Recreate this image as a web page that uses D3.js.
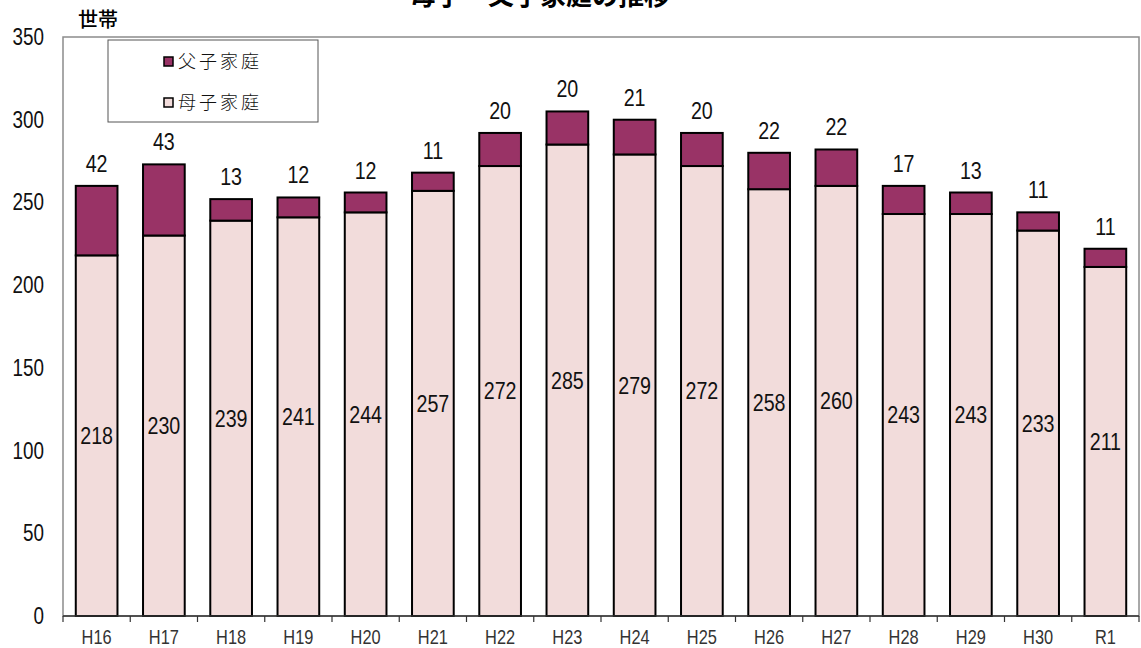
<!DOCTYPE html>
<html>
<head>
<meta charset="utf-8">
<script src="https://cdn.jsdelivr.net/npm/d3@7"></script>
<style>
  html, body { margin: 0; padding: 0; background: #fff; }
  svg { display: block; }
  .num { font-family: "Liberation Sans", Arial, sans-serif; }
  .jp { font-family: "Noto Sans CJK JP", "Noto Sans", sans-serif; }
</style>
</head>
<body>
<svg id="chart" width="1141" height="648"></svg>
<script>
// Fiscal years
const years = ["H16","H17","H18","H19","H20","H21","H22","H23","H24","H25","H26","H27","H28","H29","H30","R1"];
// Single-mother households
const motherChild = [218,230,239,241,244,257,272,285,279,272,258,260,243,243,233,211];
// Single-father households
const fatherChild = [42,43,13,12,12,11,20,20,21,20,22,22,17,13,11,11];
// Y-axis ticks
const yTicks = [0,50,100,150,200,250,300,350];
const seriesNames = ["母子家庭","父子家庭"];

const colors = { mother: "#F2DCDB", father: "#993366" };

const svg = d3.select("#chart");
const W = 1141, H = 648;
const m = { left: 63, right: 2, top: 37, bottom: 32 };
const plotW = W - m.left - m.right;
const plotH = H - m.top - m.bottom;

const x = d3.scaleBand().domain(years).range([m.left, m.left + plotW]).paddingInner(0.38).paddingOuter(0.19);
const y = d3.scaleLinear().domain([0, 350]).range([m.top + plotH, m.top]);

// Narrow numerals: horizontally condensed sans text
const NARROW = 0.82;
function narrowText(sel, fx, fy) {
  return sel.attr("class", "num")
    .attr("x", 0).attr("y", 0)
    .attr("transform", (d, i) => `translate(${fx(d, i)},${fy(d, i)}) scale(${NARROW},1)`);
}

// Title (partly above the page edge)
svg.append("text").attr("class", "jp")
  .attr("x", 540).attr("y", 5)
  .attr("text-anchor", "middle")
  .attr("font-size", 26).attr("font-weight", "bold")
  .text("母子・父子家庭の推移");

// Plot area frame
svg.append("rect")
  .attr("x", m.left).attr("y", m.top)
  .attr("width", plotW).attr("height", plotH)
  .attr("fill", "none").attr("stroke", "#8c8c8c").attr("stroke-width", 1.5);

// Unit label
svg.append("text").attr("class", "jp")
  .attr("x", 78).attr("y", 27)
  .attr("font-size", 20).attr("font-weight", 500)
  .text("世帯");

// Y axis labels
narrowText(svg.append("g").selectAll("text").data(yTicks).join("text"),
    () => 44, d => y(d))
  .attr("dy", "0.35em")
  .attr("text-anchor", "end")
  .attr("font-size", 23).attr("fill", "#111")
  .text(d => d);

// Stacked bars
const rows = years.map((yr, i) => ({ yr, mother: motherChild[i], father: fatherChild[i] }));
const stack = d3.stack().keys(["mother", "father"])(rows);

svg.append("g").selectAll("g").data(stack).join("g")
  .attr("fill", d => colors[d.key])
  .selectAll("rect").data(d => d).join("rect")
  .attr("x", d => x(d.data.yr))
  .attr("width", x.bandwidth())
  .attr("y", d => y(d[1]))
  .attr("height", d => y(d[0]) - y(d[1]))
  .attr("stroke", "#000").attr("stroke-width", 2);

// X axis
const xAxisY = y(0);
svg.append("line")
  .attr("x1", m.left).attr("x2", m.left + plotW)
  .attr("y1", xAxisY).attr("y2", xAxisY)
  .attr("stroke", "#333").attr("stroke-width", 1.5);
const boundaries = d3.range(years.length + 1).map(i => m.left + i * plotW / years.length);
svg.append("g").selectAll("line").data(boundaries).join("line")
  .attr("x1", d => d).attr("x2", d => d)
  .attr("y1", xAxisY).attr("y2", xAxisY + 6)
  .attr("stroke", "#333").attr("stroke-width", 1.2);

narrowText(svg.append("g").selectAll("text").data(years).join("text"),
    d => x(d) + x.bandwidth() / 2, () => 644)
  .attr("text-anchor", "middle")
  .attr("font-size", 20).attr("fill", "#333")
  .text(d => d);

// Value labels: mother inside the segment, father above the bar
narrowText(svg.append("g").selectAll("text").data(rows).join("text"),
    d => x(d.yr) + x.bandwidth() / 2, d => y(d.mother / 2))
  .attr("dy", "0.35em")
  .attr("text-anchor", "middle")
  .attr("font-size", 24).attr("fill", "#111")
  .text(d => d.mother);

narrowText(svg.append("g").selectAll("text").data(rows).join("text"),
    d => x(d.yr) + x.bandwidth() / 2, d => y(d.mother + d.father) - 14)
  .attr("text-anchor", "middle")
  .attr("font-size", 24).attr("fill", "#111")
  .text(d => d.father);

// Legend
const lg = svg.append("g");
lg.append("rect")
  .attr("x", 108).attr("y", 40).attr("width", 210).attr("height", 82)
  .attr("fill", "#fff").attr("stroke", "#555").attr("stroke-width", 1);
const legendItems = [
  { name: seriesNames[1], color: colors.father, cy: 62 },
  { name: seriesNames[0], color: colors.mother, cy: 103 }
];
legendItems.forEach(it => {
  lg.append("rect")
    .attr("x", 164).attr("y", it.cy - 5).attr("width", 9).attr("height", 9)
    .attr("fill", it.color).attr("stroke", "#000").attr("stroke-width", 1.5);
  lg.append("text").attr("class", "jp")
    .attr("x", 178).attr("y", it.cy)
    .attr("dy", "0.36em")
    .attr("font-size", 18).attr("letter-spacing", 3).attr("font-weight", 300)
    .attr("fill", "#111")
    .text(it.name);
});
</script>
</body>
</html>
